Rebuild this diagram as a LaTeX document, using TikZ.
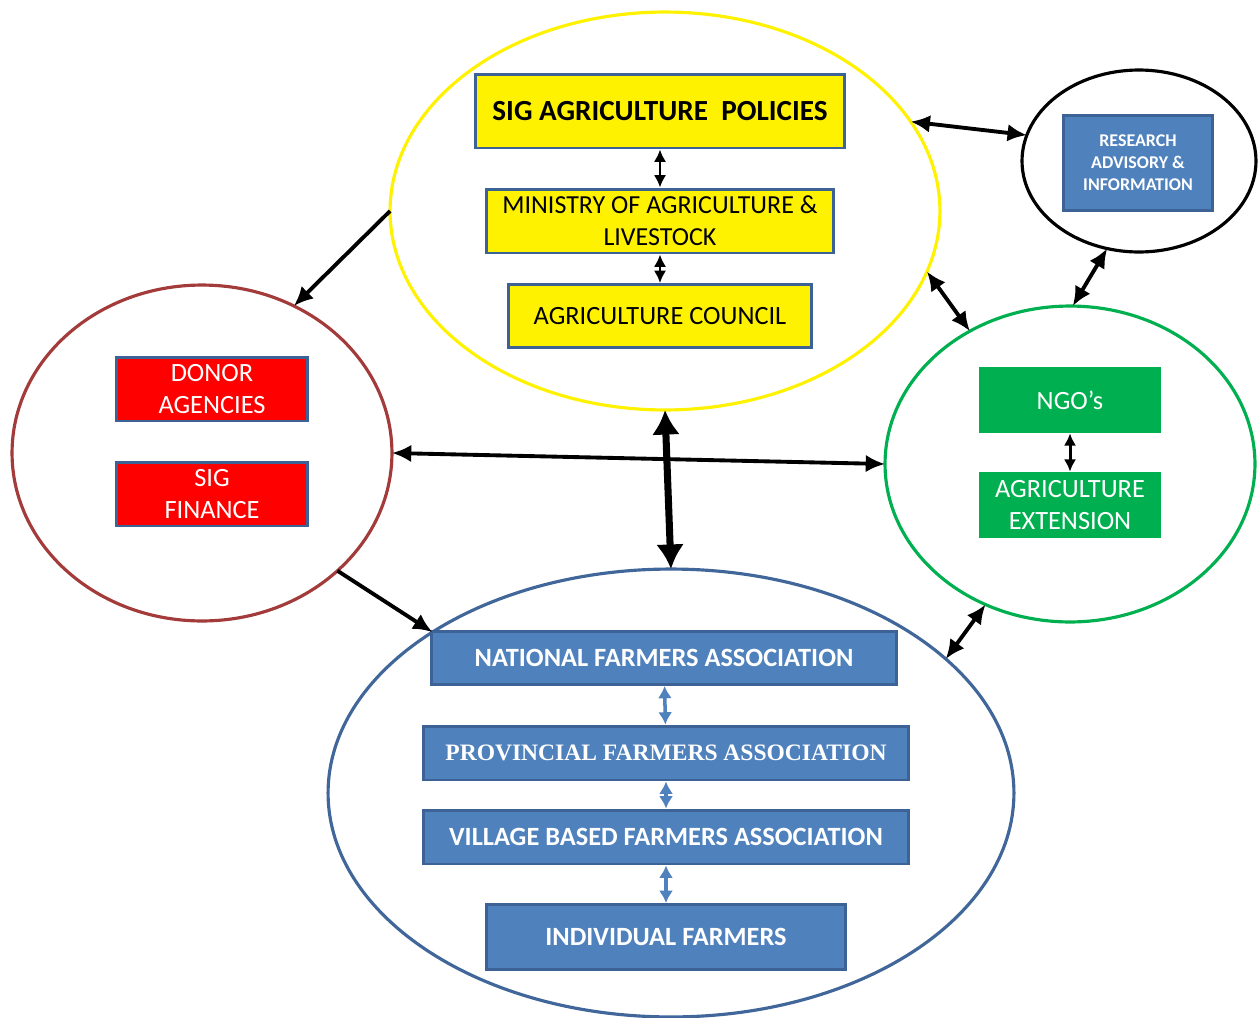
\documentclass[tikz,border=0pt]{standalone}
\usepackage{fontspec}
\setmainfont{Carlito}
\newfontfamily\provfont{Liberation Serif}
\usetikzlibrary{shapes.geometric}
\usetikzlibrary{positioning}
\usetikzlibrary{arrows.meta}
\definecolor{boxline}{HTML}{3D6396}
\definecolor{farmblue}{HTML}{4F81BD}
\definecolor{ngogreen}{HTML}{00B050}
\definecolor{donorred}{HTML}{FF0000}
\definecolor{rimred}{HTML}{A33B3B}
\definecolor{rimblue}{HTML}{41679A}
\tikzset{
    rim/.style = {ellipse, line width=1.8pt, inner sep=0pt, outer sep=0pt},
    ybox/.style = {rectangle, draw=boxline, line width=1.7pt, fill=yellow, align=center},
    rbox/.style = {rectangle, draw=boxline, line width=1.7pt, fill=donorred, text=white, align=center, minimum width=3.82cm, minimum height=1.28cm, font=\fontsize{15}{18}\selectfont},
    gbox/.style = {rectangle, fill=ngogreen, text=white, align=center, minimum width=3.66cm, minimum height=1.32cm, font=\fontsize{15}{18}\selectfont},
    bbox/.style = {rectangle, draw=boxline, line width=1.7pt, fill=farmblue, text=white, align=center, font=\bfseries\fontsize{15}{17}\selectfont},
    edgen/.style = {{Latex[length=11pt,width=10pt]}-{Latex[length=11pt,width=10pt]}, line width=2.2pt},
    edges/.style = {-{Latex[length=11pt,width=10pt]}, line width=2.2pt},
    edgek/.style = {{Latex[length=7pt,width=7pt]}-{Latex[length=7pt,width=7pt]}, line width=1.7pt},
    edgeb/.style = {{Latex[length=7pt,width=8pt]}-{Latex[length=7pt,width=8pt]}, line width=2pt, farmblue},
    edgebig/.style = {{Latex[length=14pt,width=16pt]}-{Latex[length=14pt,width=16pt]}, line width=4pt},
}

\begin{document}
\begin{tikzpicture}[x=0.02cm, y=-0.02cm]
  \useasboundingbox (0,0) rectangle (1259,1018);

  % the five circles
  \node[rim, draw=yellow, minimum width=11cm, minimum height=7.96cm] (gov) at (665,211) {};
  \node[rim, draw=black, minimum width=4.68cm, minimum height=3.64cm] (res) at (1139,161) {};
  \node[rim, draw=rimred, minimum width=7.6cm, minimum height=6.72cm] (fin) at (202,453) {};
  \node[rim, draw=ngogreen, minimum width=7.4cm, minimum height=6.32cm] (ngo) at (1070,464) {};
  \node[rim, draw=rimblue, minimum width=13.72cm, minimum height=8.96cm] (farm) at (671,793) {};

  % government
  \node[ybox, minimum width=7.4cm, minimum height=1.48cm, font=\bfseries\fontsize{16.6}{19}\selectfont] (pol) at (660,111) {SIG AGRICULTURE\ \ POLICIES};
  \node[ybox, minimum width=6.94cm, minimum height=1.28cm, font=\fontsize{14.8}{18}\selectfont] (min) at (660,221) {MINISTRY OF AGRICULTURE \&\\LIVESTOCK};
  \node[ybox, minimum width=6.08cm, minimum height=1.26cm, font=\fontsize{15}{17}\selectfont] (cnl) at (660,316) {AGRICULTURE COUNCIL};

  \node[rectangle, draw=boxline, line width=1.7pt, fill=farmblue, text=white, align=center, minimum width=2.98cm, minimum height=1.9cm, font=\bfseries\fontsize{10.2}{12.5}\selectfont] (rai) at (1138,163) {RESEARCH\\ADVISORY \&\\INFORMATION};

  \node[rbox] (don) at (212,389) {DONOR\\AGENCIES};
  \node[rbox] (sig) at (212,494) {SIG\\FINANCE};

  \node[gbox] (ngos) at (1070,400) {NGO’s};
  \node[gbox] (ext) at (1070,505) {AGRICULTURE\\EXTENSION};

  % farmers
  \node[bbox, minimum width=9.3cm, minimum height=1.06cm] (nfa) at (664,658) {NATIONAL FARMERS ASSOCIATION};
  \node[bbox, minimum width=9.72cm, minimum height=1.08cm, font=\provfont\bfseries\fontsize{13.4}{16}\selectfont] (pfa) at (666,753) {PROVINCIAL FARMERS ASSOCIATION};
  \node[bbox, minimum width=9.72cm, minimum height=1.08cm] (vfa) at (666,837) {VILLAGE BASED FARMERS ASSOCIATION};
  \node[bbox, minimum width=7.2cm, minimum height=1.3cm] (ind) at (666,937) {INDIVIDUAL FARMERS};

  \draw[edgek] (pol) -- (min);
  \draw[edgek] (min) -- (cnl);
  \draw[edgek] (ngos) -- (ext);
  \draw[edgeb] (nfa) -- (pfa);
  \draw[edgeb] (pfa) -- (vfa);
  \draw[edgeb] (vfa) -- (ind);

  \draw[edges] (gov.180) -- (fin.58.7);
  \draw[edgen] (gov.20.8) -- (res.167.7);
  \draw[edgen] (res.250) -- (ngo.89);
  \draw[edgen] (gov.-13.5) -- (ngo.127);
  \draw[edgen] (fin.east) -- (ngo.west);
  \draw[edgebig] (gov.south) -- (farm.north);
  \draw[edges] (fin.-41.8) -- (farm.146.8);
  \draw[edgen] (ngo.239.9) -- (farm.26.1);
\end{tikzpicture}
\end{document}
